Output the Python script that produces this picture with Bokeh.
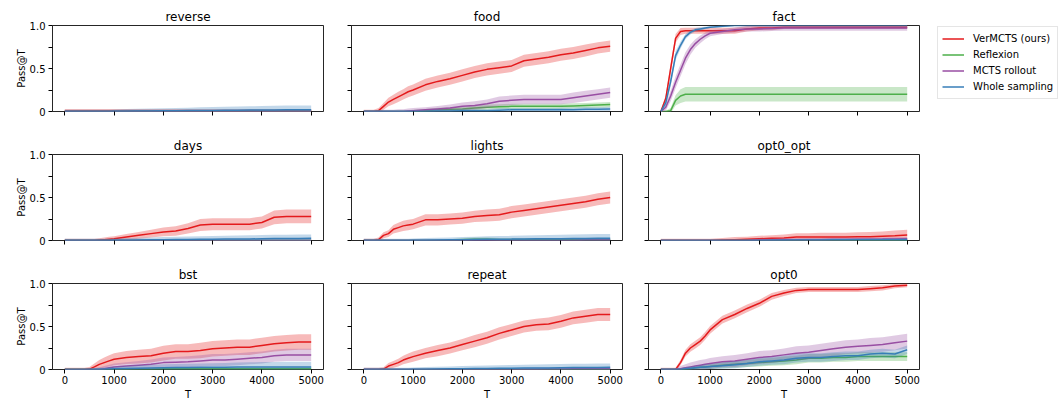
import numpy as np
from bokeh.plotting import figure
from bokeh.layouts import row, column
from bokeh.models import Range1d, FixedTicker, Legend, LegendItem
from bokeh.embed import file_html
from bokeh.resources import INLINE

# ---------------- data ----------------
T = [0, 100, 200, 300, 400, 500, 600, 700, 800, 900,
     1000, 1250, 1500, 1750, 2000, 2250, 2500, 2750, 3000, 3250, 3500, 3750, 4000, 4250, 4500, 4750, 5000]

methods = ["VerMCTS (ours)", "Reflexion", "MCTS rollout", "Whole sampling"]
colors = ["#e41a1c", "#4daf4a", "#984ea3", "#377eb8"]
titles = ["reverse", "food", "fact", "days", "lights", "opt0_opt", "bst", "repeat", "opt0"]
x_ticks = [0, 1000, 2000, 3000, 4000, 5000]
y_ticks = [0, 0.25, 0.5, 0.75, 1.0]
y_tick_labels = ["0", "", "0.5", "", "1.0"]

# reverse
reverse_ver = [0.005, 0.005, 0.005, 0.005, 0.005, 0.005, 0.005, 0.005, 0.005, 0.005,
               0.005, 0.005, 0.005, 0.005, 0.005, 0.005, 0.005, 0.005, 0.005, 0.005, 0.005, 0.005, 0.005, 0.005, 0.005, 0.005, 0.005]
reverse_ver_err = [0.025, 0.025, 0.025, 0.025, 0.025, 0.025, 0.025, 0.025, 0.025, 0.025,
                   0.025, 0.025, 0.025, 0.025, 0.025, 0.025, 0.025, 0.025, 0.025, 0.025, 0.025, 0.025, 0.025, 0.025, 0.025, 0.025, 0.025]
reverse_ref = [0, 0, 0, 0, 0, 0, 0, 0, 0, 0,
               0, 0, 0, 0, 0, 0, 0, 0, 0, 0, 0, 0, 0, 0, 0, 0, 0]
reverse_ref_err = [0.015, 0.015, 0.015, 0.015, 0.015, 0.015, 0.015, 0.015, 0.015, 0.015,
                   0.015, 0.015, 0.015, 0.015, 0.015, 0.015, 0.015, 0.015, 0.015, 0.015, 0.015, 0.015, 0.015, 0.015, 0.015, 0.015, 0.015]
reverse_mcts = [0, 0, 0, 0, 0, 0, 0, 0, 0, 0,
                0, 0, 0, 0, 0, 0, 0, 0, 0, 0, 0, 0, 0, 0, 0, 0, 0]
reverse_mcts_err = [0.015, 0.015, 0.015, 0.015, 0.015, 0.015, 0.015, 0.015, 0.015, 0.015,
                    0.015, 0.015, 0.015, 0.015, 0.015, 0.015, 0.015, 0.015, 0.015, 0.015, 0.015, 0.015, 0.015, 0.015, 0.015, 0.015, 0.015]
reverse_whole = [0, 0, 0, 0, 0, 0, 0, 0, 0, 0,
                 0.002, 0.004, 0.005, 0.006, 0.008, 0.01, 0.011, 0.012, 0.013, 0.014, 0.015, 0.016, 0.017, 0.018, 0.019, 0.02, 0.02]
reverse_whole_err = [0.02, 0.02, 0.02, 0.02, 0.02, 0.02, 0.02, 0.02, 0.02, 0.02,
                     0.022, 0.024, 0.026, 0.028, 0.03, 0.032, 0.034, 0.036, 0.038, 0.04, 0.042, 0.044, 0.046, 0.048, 0.05, 0.05, 0.05]

# food
food_ver = [0, 0, 0, 0.01, 0.06, 0.11, 0.14, 0.17, 0.20, 0.23,
            0.25, 0.31, 0.35, 0.38, 0.42, 0.46, 0.49, 0.51, 0.53, 0.59, 0.61, 0.63, 0.66, 0.68, 0.71, 0.74, 0.76]
food_ver_err = [0.02, 0.02, 0.02, 0.03, 0.04, 0.05, 0.055, 0.06, 0.06, 0.065,
                0.065, 0.07, 0.07, 0.07, 0.07, 0.07, 0.07, 0.07, 0.07, 0.07, 0.07, 0.07, 0.07, 0.07, 0.07, 0.065, 0.065]
food_ref = [0, 0, 0, 0, 0, 0, 0, 0, 0, 0,
            0, 0.01, 0.02, 0.025, 0.03, 0.04, 0.05, 0.055, 0.06, 0.06, 0.06, 0.06, 0.06, 0.065, 0.07, 0.075, 0.08]
food_ref_err = [0.015, 0.015, 0.015, 0.015, 0.015, 0.015, 0.015, 0.015, 0.015, 0.015,
                0.02, 0.02, 0.025, 0.025, 0.025, 0.03, 0.03, 0.03, 0.03, 0.03, 0.03, 0.03, 0.03, 0.03, 0.03, 0.03, 0.03]
food_mcts = [0, 0, 0, 0, 0, 0, 0, 0, 0, 0.005,
             0.01, 0.02, 0.03, 0.04, 0.06, 0.07, 0.09, 0.12, 0.13, 0.14, 0.14, 0.14, 0.14, 0.16, 0.18, 0.20, 0.22]
food_mcts_err = [0.015, 0.015, 0.015, 0.015, 0.02, 0.02, 0.02, 0.025, 0.025, 0.03,
                 0.03, 0.03, 0.035, 0.04, 0.045, 0.05, 0.05, 0.055, 0.055, 0.055, 0.055, 0.055, 0.055, 0.06, 0.06, 0.06, 0.06]
food_whole = [0, 0, 0, 0, 0, 0, 0, 0, 0, 0,
              0, 0, 0.005, 0.005, 0.01, 0.01, 0.01, 0.015, 0.02, 0.02, 0.02, 0.02, 0.02, 0.02, 0.025, 0.025, 0.03]
food_whole_err = [0.015, 0.015, 0.015, 0.015, 0.015, 0.015, 0.015, 0.015, 0.015, 0.015,
                  0.015, 0.015, 0.018, 0.018, 0.02, 0.02, 0.02, 0.022, 0.022, 0.022, 0.022, 0.022, 0.025, 0.025, 0.025, 0.025, 0.025]

# fact
fact_ver = [0, 0.15, 0.50, 0.85, 0.93, 0.94, 0.94, 0.94, 0.94, 0.94,
            0.94, 0.94, 0.94, 0.96, 0.97, 0.97, 0.98, 0.98, 0.98, 0.98, 0.98, 0.98, 0.98, 0.98, 0.98, 0.98, 0.98]
fact_ver_err = [0.01, 0.04, 0.06, 0.05, 0.04, 0.035, 0.035, 0.035, 0.035, 0.035,
                0.035, 0.035, 0.035, 0.03, 0.025, 0.025, 0.02, 0.02, 0.02, 0.02, 0.02, 0.02, 0.02, 0.02, 0.02, 0.02, 0.02]
fact_ref = [0, 0, 0.01, 0.13, 0.18, 0.20, 0.20, 0.20, 0.20, 0.20,
            0.20, 0.20, 0.20, 0.20, 0.20, 0.20, 0.20, 0.20, 0.20, 0.20, 0.20, 0.20, 0.20, 0.20, 0.20, 0.20, 0.20]
fact_ref_err = [0.01, 0.01, 0.03, 0.06, 0.08, 0.085, 0.085, 0.085, 0.085, 0.085,
                0.085, 0.085, 0.085, 0.085, 0.085, 0.085, 0.085, 0.085, 0.085, 0.085, 0.085, 0.085, 0.085, 0.085, 0.085, 0.085, 0.085]
fact_mcts = [0, 0.05, 0.18, 0.34, 0.48, 0.62, 0.72, 0.79, 0.84, 0.88,
             0.91, 0.93, 0.95, 0.96, 0.96, 0.965, 0.97, 0.97, 0.97, 0.97, 0.97, 0.97, 0.97, 0.97, 0.97, 0.97, 0.97]
fact_mcts_err = [0.01, 0.04, 0.06, 0.07, 0.07, 0.07, 0.06, 0.05, 0.045, 0.04,
                 0.035, 0.03, 0.03, 0.03, 0.03, 0.03, 0.03, 0.03, 0.03, 0.03, 0.03, 0.03, 0.03, 0.03, 0.03, 0.03, 0.03]
fact_whole = [0, 0.10, 0.35, 0.65, 0.77, 0.87, 0.92, 0.95, 0.96, 0.97,
              0.98, 0.99, 1.0, 1.0, 1.0, 1.0, 1.0, 1.0, 1.0, 1.0, 1.0, 1.0, 1.0, 1.0, 1.0, 1.0, 1.0]
fact_whole_err = [0.01, 0.04, 0.06, 0.05, 0.04, 0.03, 0.025, 0.02, 0.02, 0.015,
                  0.01, 0.01, 0.005, 0.005, 0.005, 0.005, 0.005, 0.005, 0.005, 0.005, 0.005, 0.005, 0.005, 0.005, 0.005, 0.005, 0.005]

# days
days_ver = [0, 0, 0, 0, 0, 0, 0, 0.005, 0.01, 0.015,
            0.02, 0.04, 0.06, 0.08, 0.10, 0.11, 0.14, 0.18, 0.19, 0.19, 0.19, 0.19, 0.21, 0.27, 0.28, 0.28, 0.28]
days_ver_err = [0.02, 0.02, 0.02, 0.02, 0.02, 0.02, 0.02, 0.02, 0.025, 0.03,
                0.03, 0.035, 0.04, 0.045, 0.05, 0.055, 0.06, 0.07, 0.07, 0.07, 0.07, 0.07, 0.07, 0.08, 0.08, 0.08, 0.08]
days_ref = [0, 0, 0, 0, 0, 0, 0, 0, 0, 0,
            0, 0, 0, 0, 0, 0, 0, 0, 0, 0, 0, 0, 0, 0, 0, 0, 0]
days_ref_err = [0.015, 0.015, 0.015, 0.015, 0.015, 0.015, 0.015, 0.015, 0.015, 0.015,
                0.015, 0.015, 0.015, 0.015, 0.015, 0.015, 0.015, 0.015, 0.015, 0.015, 0.015, 0.015, 0.015, 0.015, 0.015, 0.015, 0.015]
days_mcts = [0, 0, 0, 0, 0, 0, 0, 0, 0, 0,
             0, 0, 0, 0, 0, 0, 0, 0, 0, 0, 0, 0, 0, 0, 0, 0, 0]
days_mcts_err = [0.015, 0.015, 0.015, 0.015, 0.015, 0.015, 0.015, 0.015, 0.015, 0.015,
                 0.015, 0.015, 0.015, 0.015, 0.015, 0.015, 0.015, 0.015, 0.015, 0.015, 0.015, 0.015, 0.015, 0.015, 0.015, 0.015, 0.015]
days_whole = [0, 0, 0, 0, 0, 0, 0, 0, 0, 0,
              0.002, 0.004, 0.006, 0.008, 0.01, 0.012, 0.013, 0.014, 0.015, 0.016, 0.017, 0.018, 0.02, 0.022, 0.023, 0.024, 0.025]
days_whole_err = [0.02, 0.02, 0.02, 0.02, 0.02, 0.02, 0.02, 0.02, 0.02, 0.02,
                  0.022, 0.024, 0.026, 0.028, 0.03, 0.032, 0.034, 0.036, 0.038, 0.04, 0.04, 0.042, 0.043, 0.044, 0.045, 0.045, 0.045]

# lights
lights_ver = [0, 0, 0, 0.01, 0.06, 0.08, 0.13, 0.15, 0.17, 0.18,
              0.19, 0.24, 0.24, 0.25, 0.26, 0.28, 0.29, 0.30, 0.33, 0.35, 0.37, 0.39, 0.41, 0.43, 0.45, 0.48, 0.50]
lights_ver_err = [0.02, 0.02, 0.02, 0.025, 0.035, 0.04, 0.05, 0.055, 0.06, 0.06,
                  0.06, 0.065, 0.065, 0.065, 0.065, 0.065, 0.07, 0.07, 0.07, 0.07, 0.07, 0.07, 0.07, 0.07, 0.07, 0.07, 0.07]
lights_ref = [0, 0, 0, 0, 0, 0, 0, 0, 0, 0,
              0, 0, 0, 0, 0.01, 0.015, 0.015, 0.01, 0.01, 0.01, 0.01, 0.01, 0.01, 0.01, 0.01, 0.01, 0.01]
lights_ref_err = [0.015, 0.015, 0.015, 0.015, 0.015, 0.015, 0.015, 0.015, 0.015, 0.015,
                  0.015, 0.015, 0.015, 0.015, 0.02, 0.02, 0.02, 0.02, 0.02, 0.02, 0.02, 0.02, 0.02, 0.02, 0.02, 0.02, 0.02]
lights_mcts = [0, 0, 0, 0, 0, 0, 0, 0, 0, 0,
               0, 0, 0, 0, 0, 0, 0, 0, 0, 0, 0, 0, 0, 0, 0.005, 0.005, 0.005]
lights_mcts_err = [0.015, 0.015, 0.015, 0.015, 0.015, 0.015, 0.015, 0.015, 0.015, 0.015,
                   0.015, 0.015, 0.015, 0.015, 0.015, 0.015, 0.015, 0.015, 0.015, 0.015, 0.015, 0.015, 0.015, 0.015, 0.015, 0.015, 0.015]
lights_whole = [0, 0, 0, 0, 0, 0, 0, 0, 0, 0,
                0.002, 0.004, 0.006, 0.008, 0.01, 0.012, 0.014, 0.015, 0.016, 0.018, 0.02, 0.02, 0.02, 0.022, 0.024, 0.025, 0.025]
lights_whole_err = [0.02, 0.02, 0.02, 0.02, 0.02, 0.02, 0.02, 0.02, 0.02, 0.02,
                    0.022, 0.024, 0.026, 0.028, 0.03, 0.032, 0.034, 0.036, 0.038, 0.04, 0.042, 0.044, 0.046, 0.048, 0.05, 0.05, 0.05]

# opt0_opt
oo_ver = [0, 0, 0, 0, 0, 0, 0, 0, 0, 0,
          0, 0.005, 0.01, 0.015, 0.02, 0.025, 0.03, 0.04, 0.04, 0.04, 0.04, 0.04, 0.045, 0.045, 0.05, 0.055, 0.065]
oo_ver_err = [0.02, 0.02, 0.02, 0.02, 0.02, 0.02, 0.02, 0.02, 0.02, 0.02,
              0.02, 0.025, 0.03, 0.03, 0.035, 0.035, 0.04, 0.045, 0.045, 0.05, 0.05, 0.05, 0.05, 0.055, 0.055, 0.06, 0.06]
oo_ref = [0, 0, 0, 0, 0, 0, 0, 0, 0, 0,
          0, 0, 0, 0, 0, 0, 0, 0, 0, 0, 0, 0, 0, 0, 0, 0, 0]
oo_ref_err = [0.01, 0.01, 0.01, 0.01, 0.01, 0.01, 0.01, 0.01, 0.01, 0.01,
              0.01, 0.01, 0.01, 0.01, 0.01, 0.01, 0.01, 0.01, 0.01, 0.01, 0.01, 0.01, 0.01, 0.01, 0.01, 0.01, 0.01]
oo_mcts = [0, 0, 0, 0, 0, 0, 0, 0, 0, 0,
           0, 0, 0, 0, 0.005, 0.005, 0.01, 0.01, 0.01, 0.01, 0.012, 0.012, 0.014, 0.015, 0.016, 0.018, 0.02]
oo_mcts_err = [0.015, 0.015, 0.015, 0.015, 0.015, 0.015, 0.015, 0.015, 0.015, 0.015,
               0.015, 0.015, 0.015, 0.015, 0.018, 0.018, 0.02, 0.02, 0.02, 0.02, 0.02, 0.02, 0.02, 0.02, 0.02, 0.02, 0.02]
oo_whole = [0, 0, 0, 0, 0, 0, 0, 0, 0, 0,
            0, 0, 0, 0, 0, 0.002, 0.004, 0.005, 0.006, 0.007, 0.008, 0.008, 0.009, 0.01, 0.01, 0.01, 0.01]
oo_whole_err = [0.01, 0.01, 0.01, 0.01, 0.01, 0.01, 0.01, 0.01, 0.01, 0.01,
                0.01, 0.01, 0.01, 0.01, 0.012, 0.012, 0.012, 0.013, 0.013, 0.014, 0.014, 0.015, 0.015, 0.015, 0.015, 0.015, 0.015]

# bst
bst_ver = [0, 0, 0, 0, 0, 0.005, 0.03, 0.06, 0.08, 0.10,
           0.12, 0.14, 0.15, 0.16, 0.19, 0.21, 0.21, 0.22, 0.24, 0.25, 0.26, 0.26, 0.28, 0.30, 0.31, 0.32, 0.32]
bst_ver_err = [0.02, 0.02, 0.02, 0.02, 0.02, 0.025, 0.04, 0.05, 0.06, 0.065,
               0.07, 0.075, 0.08, 0.08, 0.085, 0.085, 0.085, 0.09, 0.09, 0.09, 0.09, 0.09, 0.09, 0.09, 0.09, 0.09, 0.09]
bst_ref = [0, 0, 0, 0, 0, 0, 0, 0, 0, 0,
           0.002, 0.004, 0.005, 0.006, 0.008, 0.01, 0.01, 0.01, 0.01, 0.01, 0.01, 0.01, 0.01, 0.01, 0.01, 0.01, 0.01]
bst_ref_err = [0.015, 0.015, 0.015, 0.015, 0.015, 0.015, 0.015, 0.015, 0.015, 0.015,
               0.015, 0.015, 0.015, 0.015, 0.015, 0.015, 0.015, 0.015, 0.015, 0.015, 0.015, 0.015, 0.015, 0.015, 0.015, 0.015, 0.015]
bst_mcts = [0, 0, 0, 0, 0, 0, 0, 0, 0.01, 0.02,
            0.03, 0.04, 0.05, 0.06, 0.08, 0.085, 0.09, 0.10, 0.11, 0.11, 0.12, 0.13, 0.14, 0.16, 0.17, 0.17, 0.17]
bst_mcts_err = [0.01, 0.01, 0.01, 0.01, 0.01, 0.015, 0.02, 0.025, 0.03, 0.035,
                0.04, 0.045, 0.05, 0.055, 0.06, 0.06, 0.065, 0.065, 0.07, 0.07, 0.07, 0.07, 0.07, 0.07, 0.07, 0.07, 0.07]
bst_whole = [0, 0, 0, 0, 0, 0, 0, 0.002, 0.004, 0.006,
             0.008, 0.012, 0.015, 0.018, 0.02, 0.022, 0.024, 0.025, 0.026, 0.027, 0.028, 0.029, 0.03, 0.03, 0.03, 0.03, 0.03]
bst_whole_err = [0.01, 0.01, 0.01, 0.01, 0.01, 0.012, 0.015, 0.018, 0.02, 0.022,
                 0.025, 0.03, 0.035, 0.038, 0.04, 0.042, 0.044, 0.046, 0.048, 0.05, 0.052, 0.054, 0.056, 0.058, 0.06, 0.06, 0.06]

# repeat
rep_ver = [0, 0, 0, 0, 0.005, 0.04, 0.06, 0.08, 0.11, 0.13,
           0.15, 0.19, 0.22, 0.25, 0.29, 0.33, 0.37, 0.42, 0.46, 0.50, 0.52, 0.53, 0.56, 0.60, 0.62, 0.64, 0.64]
rep_ver_err = [0.02, 0.02, 0.02, 0.02, 0.02, 0.035, 0.04, 0.045, 0.05, 0.055,
               0.06, 0.06, 0.065, 0.065, 0.065, 0.07, 0.07, 0.07, 0.07, 0.07, 0.07, 0.075, 0.075, 0.075, 0.075, 0.075, 0.075]
rep_ref = [0, 0, 0, 0, 0, 0, 0, 0, 0, 0,
           0, 0, 0, 0, 0, 0, 0, 0, 0, 0, 0, 0, 0, 0, 0, 0, 0]
rep_ref_err = [0.01, 0.01, 0.01, 0.01, 0.01, 0.01, 0.01, 0.01, 0.01, 0.01,
               0.01, 0.01, 0.01, 0.01, 0.01, 0.01, 0.01, 0.01, 0.01, 0.01, 0.01, 0.01, 0.01, 0.01, 0.01, 0.01, 0.01]
rep_mcts = [0, 0, 0, 0, 0, 0, 0, 0, 0, 0,
            0, 0, 0, 0, 0, 0, 0, 0, 0, 0.002, 0.004, 0.005, 0.006, 0.008, 0.01, 0.01, 0.01]
rep_mcts_err = [0.015, 0.015, 0.015, 0.015, 0.015, 0.015, 0.015, 0.015, 0.015, 0.015,
                0.015, 0.015, 0.015, 0.015, 0.015, 0.015, 0.015, 0.015, 0.015, 0.015, 0.018, 0.018, 0.02, 0.02, 0.02, 0.02, 0.02]
rep_whole = [0, 0, 0, 0, 0, 0, 0, 0, 0, 0,
             0.002, 0.004, 0.006, 0.008, 0.01, 0.012, 0.013, 0.014, 0.015, 0.016, 0.017, 0.018, 0.02, 0.022, 0.023, 0.024, 0.025]
rep_whole_err = [0.02, 0.02, 0.02, 0.02, 0.02, 0.02, 0.02, 0.02, 0.02, 0.02,
                 0.022, 0.024, 0.026, 0.028, 0.03, 0.032, 0.034, 0.036, 0.038, 0.04, 0.04, 0.042, 0.043, 0.044, 0.045, 0.045, 0.045]

# opt0
opt0_ver = [0, 0, 0, 0, 0.08, 0.19, 0.25, 0.29, 0.33, 0.39,
            0.46, 0.58, 0.64, 0.71, 0.77, 0.85, 0.89, 0.92, 0.93, 0.93, 0.93, 0.93, 0.93, 0.94, 0.95, 0.97, 0.98]
opt0_ver_err = [0.02, 0.02, 0.02, 0.02, 0.03, 0.04, 0.045, 0.045, 0.045, 0.045,
                0.045, 0.045, 0.045, 0.045, 0.04, 0.04, 0.035, 0.03, 0.03, 0.03, 0.03, 0.03, 0.03, 0.03, 0.03, 0.025, 0.025]
opt0_ref = [0, 0, 0, 0, 0, 0.005, 0.01, 0.02, 0.025, 0.03,
            0.035, 0.05, 0.06, 0.07, 0.08, 0.09, 0.10, 0.11, 0.13, 0.13, 0.14, 0.14, 0.15, 0.15, 0.15, 0.15, 0.15]
opt0_ref_err = [0.015, 0.015, 0.015, 0.015, 0.015, 0.02, 0.02, 0.025, 0.025, 0.03,
                0.03, 0.035, 0.04, 0.04, 0.045, 0.045, 0.05, 0.05, 0.05, 0.05, 0.05, 0.05, 0.05, 0.05, 0.05, 0.05, 0.05]
opt0_mcts = [0, 0, 0, 0, 0.01, 0.02, 0.03, 0.04, 0.05, 0.06,
             0.07, 0.09, 0.10, 0.12, 0.14, 0.15, 0.17, 0.19, 0.20, 0.22, 0.24, 0.26, 0.27, 0.28, 0.29, 0.31, 0.33]
opt0_mcts_err = [0.015, 0.015, 0.015, 0.015, 0.03, 0.04, 0.05, 0.055, 0.06, 0.06,
                 0.065, 0.065, 0.07, 0.07, 0.075, 0.075, 0.075, 0.08, 0.08, 0.08, 0.08, 0.08, 0.08, 0.085, 0.085, 0.085, 0.085]
opt0_whole = [0, 0, 0, 0, 0, 0.01, 0.015, 0.02, 0.025, 0.03,
              0.035, 0.045, 0.055, 0.07, 0.09, 0.10, 0.11, 0.13, 0.14, 0.14, 0.15, 0.16, 0.16, 0.18, 0.19, 0.18, 0.23]
opt0_whole_err = [0.015, 0.015, 0.015, 0.015, 0.015, 0.02, 0.02, 0.025, 0.025, 0.03,
                  0.03, 0.035, 0.04, 0.04, 0.045, 0.045, 0.05, 0.05, 0.05, 0.05, 0.05, 0.05, 0.05, 0.05, 0.05, 0.05, 0.05]

panel_data = [
    [(reverse_ver, reverse_ver_err), (reverse_ref, reverse_ref_err), (reverse_mcts, reverse_mcts_err), (reverse_whole, reverse_whole_err)],
    [(food_ver, food_ver_err), (food_ref, food_ref_err), (food_mcts, food_mcts_err), (food_whole, food_whole_err)],
    [(fact_ver, fact_ver_err), (fact_ref, fact_ref_err), (fact_mcts, fact_mcts_err), (fact_whole, fact_whole_err)],
    [(days_ver, days_ver_err), (days_ref, days_ref_err), (days_mcts, days_mcts_err), (days_whole, days_whole_err)],
    [(lights_ver, lights_ver_err), (lights_ref, lights_ref_err), (lights_mcts, lights_mcts_err), (lights_whole, lights_whole_err)],
    [(oo_ver, oo_ver_err), (oo_ref, oo_ref_err), (oo_mcts, oo_mcts_err), (oo_whole, oo_whole_err)],
    [(bst_ver, bst_ver_err), (bst_ref, bst_ref_err), (bst_mcts, bst_mcts_err), (bst_whole, bst_whole_err)],
    [(rep_ver, rep_ver_err), (rep_ref, rep_ref_err), (rep_mcts, rep_mcts_err), (rep_whole, rep_whole_err)],
    [(opt0_ver, opt0_ver_err), (opt0_ref, opt0_ref_err), (opt0_mcts, opt0_mcts_err), (opt0_whole, opt0_whole_err)],
]

for pi, plist in enumerate(panel_data):
    for si, (m, e) in enumerate(plist):
        if len(m) != len(T) or len(e) != len(T):
            raise ValueError(f"length mismatch panel {titles[pi]} series {si}: {len(m)} {len(e)}")

# ---------------- layout ----------------
FONT = "DejaVu Sans"
FW, FH = 271, 86
left_b = [52, 14, 14]
right_b = [14, 12, 10]
top_b = [25, 33, 33]
bot_b = [10, 10, 31]

rows = []
for r in range(3):
    figs = []
    for c in range(3):
        k = r * 3 + c
        rb = right_b[c]
        if r == 0 and c == 2:
            rb = 138
        p = figure(frame_width=FW, frame_height=FH,
                   x_range=Range1d(-250, 5250), y_range=Range1d(0, 1),
                   output_backend="svg", toolbar_location=None,
                   min_border_left=left_b[c], min_border_right=rb,
                   min_border_top=top_b[r], min_border_bottom=bot_b[r],
                   title=titles[k])
        p.title.text_font = FONT
        p.title.text_font_size = "12px"
        p.title.text_font_style = "normal"
        p.title.text_color = "black"
        p.title.align = "center"
        p.title.standoff = 3
        p.grid.visible = False
        p.outline_line_color = "black"
        p.outline_line_width = 1
        p.outline_line_alpha = 0.85
        p.background_fill_color = "white"
        p.border_fill_color = "white"

        for ax in (p.xaxis[0], p.yaxis[0]):
            ax.axis_line_color = None
            ax.major_tick_out = 4
            ax.major_tick_in = 0
            ax.major_tick_line_color = "black"
            ax.minor_tick_line_color = None
            ax.major_label_text_font = FONT
            ax.major_label_text_color = "black"
            ax.axis_label_text_font = FONT
            ax.axis_label_text_font_style = "normal"
            ax.axis_label_text_color = "black"
            ax.axis_label_text_font_size = "10px"

        p.xaxis.ticker = FixedTicker(ticks=x_ticks)
        p.yaxis.ticker = FixedTicker(ticks=y_ticks)

        if c == 0:
            p.yaxis.major_label_overrides = {t: s for t, s in zip(y_ticks, y_tick_labels)}
            p.yaxis.major_label_text_font_size = "10px"
            p.yaxis.major_label_standoff = 3
            p.yaxis.axis_label = "Pass@T"
            p.yaxis.axis_label_standoff = 0
        else:
            p.yaxis.major_label_overrides = {t: "" for t in y_ticks}
            p.yaxis.major_label_text_font_size = "1px"
            p.yaxis.major_label_standoff = 0

        if r == 2:
            p.xaxis.major_label_text_font_size = "10px"
            p.xaxis.major_label_standoff = 2
            p.xaxis.axis_label = "T"
            p.xaxis.axis_label_standoff = 2
        else:
            p.xaxis.major_label_overrides = {t: "" for t in x_ticks}
            p.xaxis.major_label_text_font_size = "1px"
            p.xaxis.major_label_standoff = 0

        line_rs = []
        for si, (m, e) in enumerate(panel_data[k]):
            m_arr = np.array(m, dtype=float)
            e_arr = np.array(e, dtype=float)
            p.varea(x=T, y1=m_arr - e_arr, y2=m_arr + e_arr,
                    fill_color=colors[si], fill_alpha=0.3)
            lr = p.line(T, m_arr, line_color=colors[si], line_width=1.5)
            line_rs.append(lr)

        if r == 0 and c == 2:
            legend = Legend(items=[LegendItem(label=methods[i], renderers=[line_rs[i]]) for i in range(4)],
                            location=(18, 12), margin=0, padding=4, spacing=1,
                            glyph_width=22, glyph_height=15, label_height=15,
                            label_standoff=9,
                            label_text_font=FONT, label_text_font_size="10px",
                            label_text_color="black",
                            border_line_color="#cccccc", border_line_width=1,
                            background_fill_color="white", background_fill_alpha=0.8)
            p.add_layout(legend, "right")
        figs.append(p)
    rows.append(row(*figs))

layout = column(*rows)
open("out.html", "w").write(file_html(layout, INLINE))
